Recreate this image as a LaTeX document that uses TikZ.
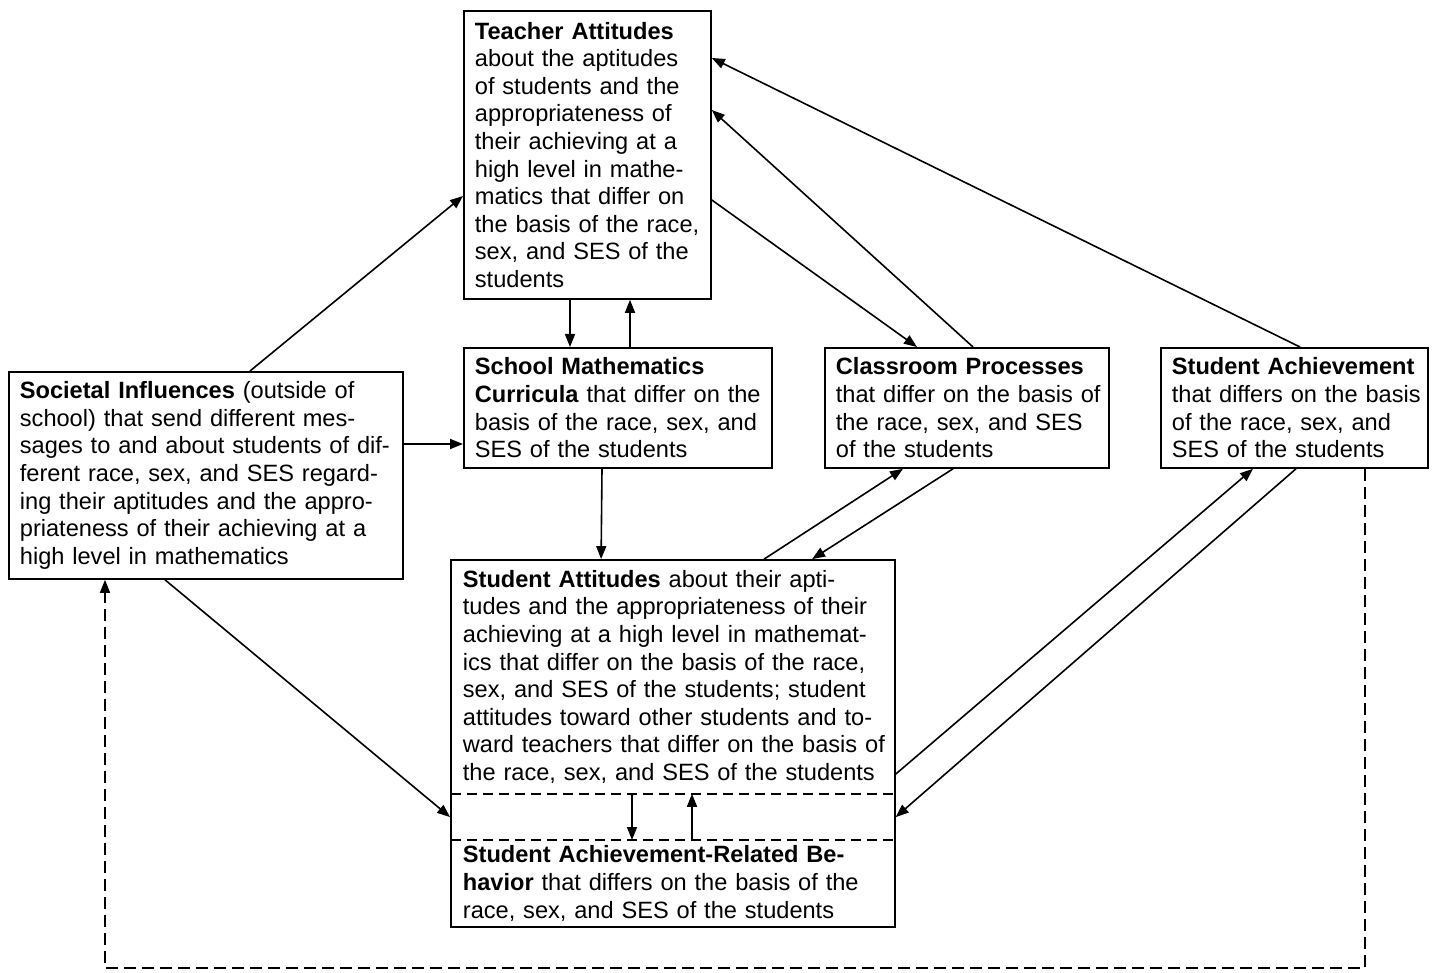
\documentclass[tikz,border=0pt]{standalone}
\usepackage{fontspec}
\setmainfont{Liberation Sans}
\usetikzlibrary{arrows.meta,fit}
\newcommand{\bxfont}{\fontsize{23.6}{27.6}\selectfont}
\newcommand{\lft}{\rightskip=0pt plus 1fil minus 40pt\relax}

\begin{document}
\begin{tikzpicture}[x=1pt,y=-1pt,
    box/.style={draw,line width=1.8pt,anchor=north west,align=left,font=\bxfont,
      inner xsep=11pt,inner ysep=1pt},
    arr/.style={line width=1.6pt,-{Triangle[length=13pt,width=10pt]}},
    dsh/.style={line width=1.6pt,dash pattern=on 10pt off 6pt}]
  \useasboundingbox (0,0) rectangle (1435,973);
  \node[box,text width=225pt,minimum height=288pt] (teach) at (463,10)
    {\lft\textbf{Teacher Attitudes}\\about the aptitudes\\of students and the\\appropriateness of\\their achieving at a\\high level in mathe-\\matics that differ on\\the basis of the race,\\sex, and SES of the\\students};
  \node[box,text width=286pt,minimum height=120pt] (curr) at (463,347)
    {\lft\textbf{School Mathematics}\\\textbf{Curricula} that differ on the\\basis of the race, sex, and\\SES of the students};
  \node[box,text width=262pt,minimum height=120pt] (class) at (824,347)
    {\lft\textbf{Classroom Processes}\\that differ on the basis of\\the race, sex, and SES\\of the students};
  \node[box,text width=245pt,minimum height=120pt] (ach) at (1160,347)
    {\lft\textbf{Student Achievement}\\that differs on the basis\\of the race, sex, and\\SES of the students};
  \node[box,text width=372pt,minimum height=207pt] (soc) at (8,371)
    {\lft\textbf{Societal Influences} (outside of\\school) that send different mes-\\sages to and about students of dif-\\ferent race, sex, and SES regard-\\ing their aptitudes and the appro-\\priateness of their achieving at a\\high level in mathematics};
  \node[box,draw=none,text width=420pt,minimum height=232pt] (att) at (451,560)
    {\lft\textbf{Student Attitudes} about their apti-\\tudes and the appropriateness of their\\achieving at a high level in mathemat-\\ics that differ on the basis of the race,\\sex, and SES of the students; student\\attitudes toward other students and to-\\ward teachers that differ on the basis of\\the race, sex, and SES of the students};
  \node[box,draw=none,text width=420pt,minimum height=85pt] (beh) at (451,840)
    {\lft\textbf{Student Achievement-Related Be-}\\\textbf{havior} that differs on the basis of the\\race, sex, and SES of the students};
  \node[draw,line width=1.8pt,fit=(att)(beh),inner sep=0pt] (stud) {};
  \draw[dsh] (att.south west) -- (att.south east);
  \draw[dsh] (beh.north west) -- (beh.north east);

  \draw[arr] ([xshift=107pt]teach.south west) -- ([xshift=107pt]curr.north west);
  \draw[arr] ([xshift=167pt]curr.north west) -- ([xshift=167pt]teach.south west);
  \draw[arr] ([xshift=242pt]soc.north west) -- ([yshift=-186pt]teach.north west);
  \draw[arr] ([yshift=-73pt]soc.north east) -- ([yshift=-97pt]curr.north west);
  \draw[arr] ([xshift=157pt]soc.south west) -- ([yshift=-258pt]stud.north west);
  \draw[arr] ([xshift=139pt]curr.south west) -- ([xshift=151pt]stud.north west);
  \draw[arr] ([yshift=-190pt]teach.north east) -- ([xshift=93pt]class.north west);
  \draw[arr] ([xshift=149pt]class.north west) -- ([yshift=-100pt]teach.north east);
  \draw[arr] ([xshift=140pt]ach.north west) -- ([yshift=-48pt]teach.north east);
  \draw[arr] ([xshift=314pt]stud.north west) -- ([xshift=79pt]class.south west);
  \draw[arr] ([xshift=129pt]class.south west) -- ([xshift=362pt]stud.north west);
  \draw[arr] ([yshift=-215pt]stud.north east) -- ([xshift=93pt]ach.south west);
  \draw[arr] ([xshift=136pt]ach.south west) -- ([yshift=-258pt]stud.north east);
  \draw[arr] ([xshift=181pt]att.south west) -- ([xshift=181pt]beh.north west);
  \draw[arr] ([xshift=241pt]beh.north west) -- ([xshift=241pt]att.south west);
  \coordinate (loop) at (105,968);
  \draw[arr,dash pattern=on 12pt off 6pt] ([xshift=205pt]ach.south west) |- (loop) -- ([xshift=97pt]soc.south west);
\end{tikzpicture}
\end{document}
